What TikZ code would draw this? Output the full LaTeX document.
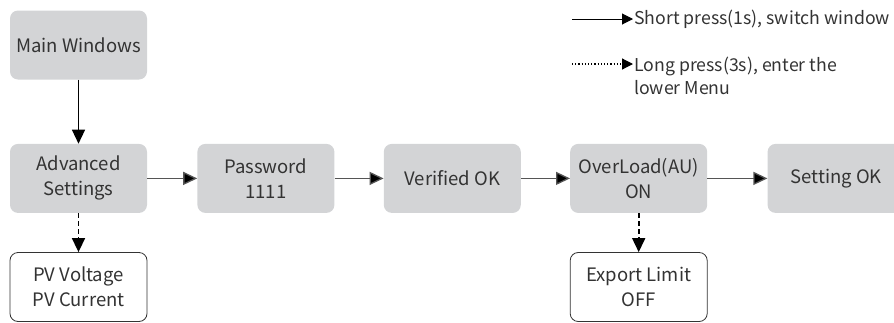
\documentclass[tikz,border=0pt]{standalone}
\usepackage{fontspec}
\setmainfont{Noto Sans CJK SC}
\usetikzlibrary{arrows.meta,positioning,calc}
\definecolor{boxGray}{HTML}{D3D4D6}
\definecolor{lineGray}{HTML}{555555}
\definecolor{textGray}{HTML}{333333}
\newcommand{\menufont}{\fontsize{18.5}{25}\selectfont}
\newcommand{\legendfont}{\fontsize{17.7}{23}\selectfont}

\begin{document}
\begin{tikzpicture}[x=1pt,y=-1pt,
    menubox/.style={fill=boxGray,rounded corners=8pt,minimum width=137pt,minimum height=69pt,
      inner sep=0pt,align=center,text=textGray,font=\menufont},
    subbox/.style={menubox,fill=white,draw=textGray,line width=0.8pt},
    shortarrow/.style={draw=lineGray,line width=1.3pt,-{Triangle[length=14pt,width=13pt,fill=black]}},
    longarrow/.style={draw=black,line width=1.6pt,dash pattern=on 5pt off 3pt,-{Triangle[length=14pt,width=13pt]}},
    legtext/.style={anchor=west,inner sep=1pt,align=left,text=textGray,font=\legendfont}]
        \useasboundingbox (0,0) rectangle (894,322);
        % main row
        \node[menubox] (main) at (78.5,45) {Main Windows};
        \node[menubox,below=64pt of main] (adv) {Advanced\\Settings};
        \node[menubox,right=50pt of adv] (pwd) {Password\\1111};
        \node[menubox,right=49pt of pwd] (verif) {Verified OK};
        \node[menubox,right=49pt of verif] (ovl) {OverLoad(AU)\\ON};
        \node[menubox,right=60pt of ovl] (setok) {Setting OK};
        % lower menus
        \node[subbox,below=39pt of adv] (pv) {PV Voltage\\PV Current};
        \node[subbox,below=39pt of ovl] (expl) {Export Limit\\OFF};
        \draw[shortarrow,draw=black] (main) -- (adv);
        \draw[shortarrow] (adv) -- (pwd);
        \draw[shortarrow] (pwd) -- (verif);
        \draw[shortarrow] (verif) -- (ovl);
        \draw[shortarrow] (ovl) -- (setok);
        \draw[longarrow] (adv) -- (pv);
        \draw[longarrow] (ovl) -- (expl);
        % legend
        \coordinate (legA) at (572,19);
        \coordinate (legB) at (572,64);
        \node[legtext] (legshort) at (633,19) {Short press(1s), switch window};
        \node[legtext] (leglong) at (633,75.5) {Long press(3s), enter the\\lower Menu};
        \draw[draw=black,line width=1pt,-{Triangle[length=11pt,width=11pt]}] (legA) -- (legshort.west);
        \draw[draw=black,line width=1.2pt,dotted,-{Triangle[length=11pt,width=11pt]}] (legB) -- (legB -| leglong.west);
      \end{tikzpicture}
\end{document}
